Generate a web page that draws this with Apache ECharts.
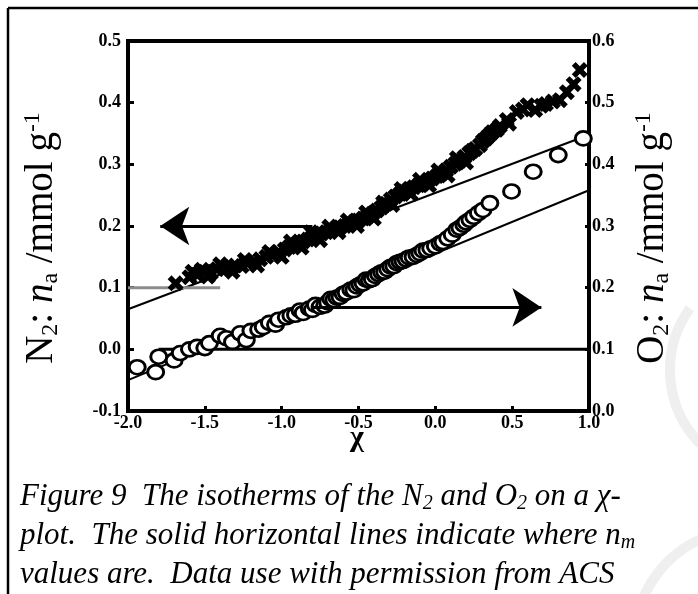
<!DOCTYPE html>
<html>
<head>
<meta charset="utf-8">
<script src="https://cdn.jsdelivr.net/npm/echarts@6/dist/echarts.min.js"></script>
<style>
html, body { margin: 0; padding: 0; background: #fff; }
#chart { width: 698px; height: 594px; }
</style>
</head>
<body>
<div id="chart"></div>
<script>
// N2 isotherm (left axis), crosses
var n2Chi = [-1.69, -1.60, -1.58, -1.55, -1.52, -1.50, -1.48, -1.46, -1.42, -1.40, -1.38, -1.34, -1.32, -1.30,
	-1.26, -1.24, -1.22, -1.18, -1.16, -1.14, -1.10, -1.08, -1.06, -1.02, -1.00, -0.98, -0.95, -0.94, -0.92,
	-0.89, -0.87, -0.86, -0.83, -0.81, -0.80, -0.77, -0.75, -0.74, -0.71, -0.69, -0.68, -0.65, -0.63, -0.62,
	-0.59, -0.57, -0.56, -0.53, -0.51, -0.50, -0.47, -0.45, -0.44, -0.41, -0.40, -0.38, -0.35, -0.34, -0.32,
	-0.29, -0.28, -0.26, -0.23, -0.22, -0.20, -0.17, -0.16, -0.14, -0.11, -0.10, -0.08, -0.05, -0.04, -0.02,
	0.01, 0.02, 0.04, 0.07, 0.08, 0.10, 0.13, 0.14, 0.16, 0.19, 0.20, 0.22, 0.24, 0.26, 0.29, 0.31, 0.33,
	0.35, 0.37, 0.40, 0.42, 0.465, 0.48, 0.53, 0.57, 0.60, 0.65, 0.69, 0.72, 0.765, 0.81, 0.856, 0.90, 0.94];
var n2Amt = [0.107, 0.117, 0.126, 0.121, 0.129, 0.126, 0.118, 0.124, 0.130, 0.138, 0.133, 0.131, 0.126, 0.136,
	0.135, 0.145, 0.140, 0.142, 0.136, 0.146, 0.150, 0.158, 0.153, 0.158, 0.150, 0.162, 0.166, 0.175, 0.168,
	0.172, 0.165, 0.175, 0.178, 0.190, 0.182, 0.184, 0.177, 0.188, 0.190, 0.199, 0.193, 0.195, 0.190, 0.198,
	0.200, 0.209, 0.203, 0.206, 0.200, 0.209, 0.212, 0.222, 0.216, 0.220, 0.212, 0.225, 0.230, 0.238, 0.236,
	0.243, 0.234, 0.248, 0.252, 0.260, 0.256, 0.260, 0.252, 0.263, 0.266, 0.275, 0.269, 0.273, 0.266, 0.277,
	0.281, 0.290, 0.285, 0.290, 0.282, 0.296, 0.301, 0.310, 0.306, 0.312, 0.303, 0.318, 0.322, 0.325, 0.331, 0.338, 0.342,
	0.347, 0.352, 0.356, 0.362, 0.372, 0.366, 0.385, 0.389, 0.396, 0.388, 0.395, 0.398, 0.402, 0.404, 0.417, 0.430, 0.453];

// O2 isotherm (right axis), circles
var o2Chi = [-1.94, -1.82, -1.80, -1.70, -1.66, -1.60, -1.55, -1.50, -1.47, -1.40, -1.36, -1.32, -1.27, -1.23,
	-1.20, -1.15, -1.12, -1.08, -1.04, -1.02, -0.97, -0.94, -0.91, -0.88, -0.86, -0.82, -0.80, -0.78, -0.75,
	-0.72, -0.70, -0.68, -0.66, -0.64, -0.62, -0.60, -0.58, -0.55, -0.53, -0.51, -0.49, -0.47, -0.45, -0.43,
	-0.41, -0.39, -0.37, -0.35, -0.33, -0.31, -0.29, -0.27, -0.25, -0.23, -0.21, -0.19, -0.17, -0.145, -0.12,
	-0.10, -0.08, -0.055, -0.03, 0.00, 0.03, 0.05, 0.08, 0.11, 0.14, 0.16, 0.185, 0.20, 0.225, 0.25, 0.28,
	0.31, 0.355, 0.496, 0.637, 0.80, 0.963];
var o2Amt = [0.071, 0.063, 0.088, 0.082, 0.094, 0.100, 0.104, 0.102, 0.110, 0.122, 0.118, 0.112, 0.126, 0.115,
	0.130, 0.132, 0.136, 0.143, 0.140, 0.148, 0.152, 0.155, 0.156, 0.163, 0.159, 0.166, 0.164, 0.172, 0.169,
	0.171, 0.176, 0.182, 0.180, 0.184, 0.185, 0.190, 0.192, 0.197, 0.196, 0.202, 0.205, 0.207, 0.213, 0.212,
	0.214, 0.219, 0.222, 0.225, 0.226, 0.230, 0.234, 0.235, 0.240, 0.242, 0.243, 0.246, 0.249, 0.250, 0.253,
	0.256, 0.260, 0.261, 0.264, 0.267, 0.272, 0.274, 0.280, 0.286, 0.294, 0.297, 0.302, 0.306, 0.310, 0.315, 0.321,
	0.326, 0.337, 0.356, 0.388, 0.415, 0.442];

// straight lines and n_m markers
var n2FitChi = [-2.0, 1.0];
var n2FitAmt = [0.065, 0.348];
var o2FitChi = [-2.0, 1.0];
var o2FitAmt = [0.05, 0.358];
var n2MonoChi = [-2.0, -1.4];
var n2MonoAmt = [0.1, 0.1];
var o2MonoChi = [-1.8, 1.0];
var o2MonoAmt = [0.1, 0.1];
var leftArrowChi = [-0.8, -1.79];
var leftArrowAmt = [0.2, 0.2];
var rightArrowChi = [-0.8, 0.69];
var rightArrowAmt = [0.168, 0.168];

var serif = "'Liberation Serif', 'DejaVu Serif', serif";
var crossPath = 'path://M0,2.4 L2.4,0 L5,2.6 L7.6,0 L10,2.4 L7.4,5 L10,7.6 L7.6,10 L5,7.4 L2.4,10 L0,7.6 L2.6,5 Z';

function zip(xs, ys) {
	var out = [];
	for (var i = 0; i < xs.length; i++) {
		out.push([xs[i], ys[i]]);
	}
	return out;
}

function fix1(v) {
	return (Math.round(v * 10) / 10).toFixed(1);
}

var tickLabel = {
	formatter : fix1,
	fontFamily : serif,
	fontWeight : 'bold',
	fontSize : 18,
	color : '#000'
};

var captionRich = {
	t : { fontFamily : serif, fontStyle : 'italic', fontSize : 31, color : '#000', lineHeight : 34 },
	s : { fontFamily : serif, fontStyle : 'italic', fontSize : 20, color : '#000', verticalAlign : 'bottom', lineHeight : 20 }
};

var nameRich = {
	t : { fontFamily : serif, fontSize : 39, color : '#000', lineHeight : 42 },
	i : { fontFamily : serif, fontStyle : 'italic', fontSize : 39, color : '#000', lineHeight : 42 },
	s : { fontFamily : serif, fontSize : 24, color : '#000', verticalAlign : 'bottom', lineHeight : 24 },
	p : { fontFamily : serif, fontSize : 24, color : '#000', verticalAlign : 'top', lineHeight : 24 }
};

var myChart = echarts.init(document.getElementById('chart'));
var option = {
	animation : false,
	backgroundColor : '#fff',
	grid : {
		left : 128,
		right : 109,
		top : 41,
		bottom : 183,
		show : true,
		borderColor : '#000',
		borderWidth : 4
	},
	xAxis : {
		type : 'value',
		min : -2.0,
		max : 1.0,
		interval : 0.5,
		axisLine : { show : false, onZero : false },
		axisTick : { inside : true, length : 5, lineStyle : { color : '#000', width : 3 } },
		axisLabel : Object.assign({ margin : 3 }, tickLabel),
		splitLine : { show : false }
	},
	yAxis : [ {
		type : 'value',
		min : -0.1,
		max : 0.5,
		interval : 0.1,
		axisLine : { show : false, onZero : false },
		axisTick : { inside : true, length : 6, lineStyle : { color : '#000', width : 3 } },
		axisLabel : Object.assign({ margin : 7 }, tickLabel),
		splitLine : { show : false }
	}, {
		type : 'value',
		position : 'right',
		min : 0.0,
		max : 0.6,
		interval : 0.1,
		axisLine : { show : false, onZero : false },
		axisTick : { inside : true, length : 4, lineStyle : { color : '#000', width : 3 } },
		axisLabel : Object.assign({ margin : 3 }, tickLabel),
		splitLine : { show : false }
	} ],
	series : [ {
		name : 'N2 fit',
		type : 'line',
		data : zip(n2FitChi, n2FitAmt),
		showSymbol : false,
		lineStyle : { color : '#000', width : 2 },
		z : 2,
		markLine : {
			silent : true,
			symbol : [ 'none', 'arrow' ],
			symbolSize : 29,
			label : { show : false },
			lineStyle : { color : '#000', width : 3, type : 'solid' },
			data : [ [ { coord : [ leftArrowChi[0], leftArrowAmt[0] ] }, { coord : [ leftArrowChi[1], leftArrowAmt[1] ] } ] ]
		}
	}, {
		name : 'N2 nm',
		type : 'line',
		data : zip(n2MonoChi, n2MonoAmt),
		showSymbol : false,
		lineStyle : { color : '#8c8c8c', width : 3 },
		z : 2
	}, {
		name : 'O2 fit',
		type : 'line',
		yAxisIndex : 1,
		data : zip(o2FitChi, o2FitAmt),
		showSymbol : false,
		lineStyle : { color : '#000', width : 2 },
		z : 2,
		markLine : {
			silent : true,
			symbol : [ 'none', 'arrow' ],
			symbolSize : 29,
			label : { show : false },
			lineStyle : { color : '#000', width : 3, type : 'solid' },
			data : [ [ { coord : [ rightArrowChi[0], rightArrowAmt[0] ] }, { coord : [ rightArrowChi[1], rightArrowAmt[1] ] } ] ]
		}
	}, {
		name : 'O2 nm',
		type : 'line',
		yAxisIndex : 1,
		data : zip(o2MonoChi, o2MonoAmt),
		showSymbol : false,
		lineStyle : { color : '#000', width : 3 },
		z : 2
	}, {
		name : 'N2',
		type : 'scatter',
		data : zip(n2Chi, n2Amt),
		symbol : crossPath,
		symbolSize : 16,
		itemStyle : { color : '#000', opacity : 1 },
		z : 4
	}, {
		name : 'O2',
		type : 'scatter',
		yAxisIndex : 1,
		data : zip(o2Chi, o2Amt),
		symbol : 'circle',
		symbolSize : [ 16, 14 ],
		itemStyle : { color : '#fff', borderColor : '#000', borderWidth : 2.8, opacity : 1 },
		z : 3
	} ],
	graphic : [ {
		type : 'arc',
		shape : { cx : 775, cy : 370, r : 105, startAngle : Math.PI * 0.75, endAngle : Math.PI * 1.2 },
		style : { stroke : '#efefef', lineWidth : 10, fill : null },
		z : -1
	}, {
		type : 'arc',
		shape : { cx : 745, cy : 640, r : 110, startAngle : Math.PI * 1.0, endAngle : Math.PI * 1.42 },
		style : { stroke : '#efefef', lineWidth : 10, fill : null },
		z : -1
	}, {
		type : 'line',
		shape : { x1 : 8, y1 : 8, x2 : 698, y2 : 8 },
		style : { stroke : '#000', lineWidth : 2.5 }
	}, {
		type : 'line',
		shape : { x1 : 8, y1 : 8, x2 : 8, y2 : 594 },
		style : { stroke : '#000', lineWidth : 2.5 }
	}, {
		type : 'text',
		x : 42,
		y : 238,
		rotation : Math.PI / 2,
		style : {
			text : '{t|N}{s|2}{t|: }{i|n}{s|a}{t| /mmol g}{p|-1}',
			rich : nameRich,
			align : 'center',
			verticalAlign : 'middle'
		}
	}, {
		type : 'text',
		x : 653,
		y : 238,
		rotation : Math.PI / 2,
		style : {
			text : '{t|O}{s|2}{t|: }{i|n}{s|a}{t| /mmol g}{p|-1}',
			rich : nameRich,
			align : 'center',
			verticalAlign : 'middle'
		}
	}, {
		type : 'text',
		x : 357,
		y : 438,
		style : {
			text : 'χ',
			font : 'bold 30px ' + serif,
			fill : '#000',
			align : 'center',
			verticalAlign : 'middle'
		}
	}, {
		type : 'text',
		x : 20,
		y : 497,
		style : {
			text : '{t|Figure 9  The isotherms of the N}{s|2}{t| and O}{s|2}{t| on a χ-}',
			rich : captionRich,
			align : 'left',
			verticalAlign : 'middle'
		}
	}, {
		type : 'text',
		x : 20,
		y : 536,
		style : {
			text : '{t|plot.  The solid horizontal lines indicate where n}{s|m}',
			rich : captionRich,
			align : 'left',
			verticalAlign : 'middle'
		}
	}, {
		type : 'text',
		x : 20,
		y : 575,
		style : {
			text : '{t|values are.  Data use with permission from ACS}',
			rich : captionRich,
			align : 'left',
			verticalAlign : 'middle'
		}
	} ]
};

myChart.setOption(option);
</script>
</body>
</html>
